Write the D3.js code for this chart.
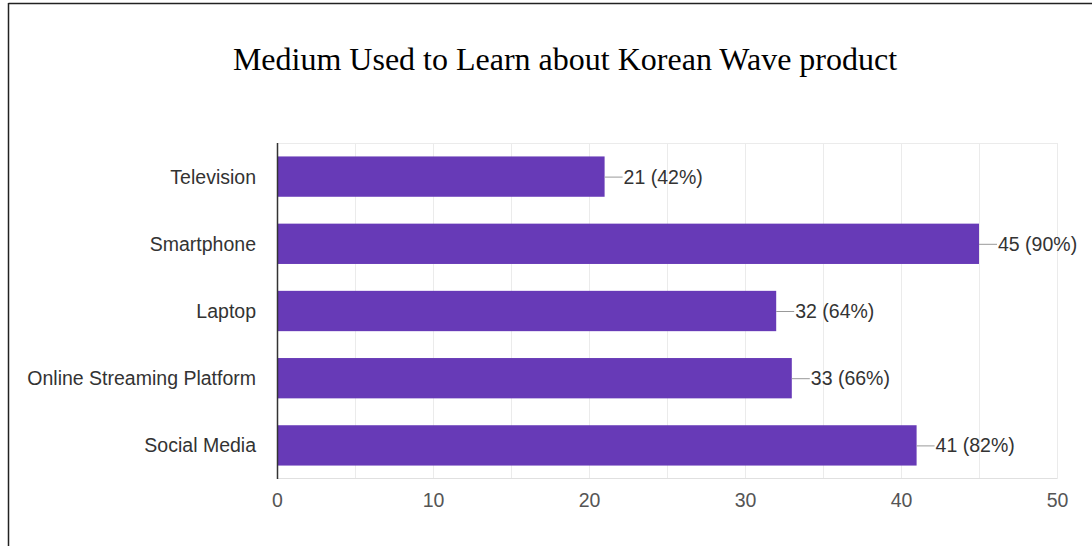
<!DOCTYPE html>
<html>
<head>
<meta charset="utf-8">
<script src="https://cdn.jsdelivr.net/npm/d3@7"></script>
<style>
  html, body { margin: 0; padding: 0; background: #fff; }
  svg { display: block; }
</style>
</head>
<body>
<svg id="chart" width="1092" height="546"></svg>
<script>
// Survey responses: number of respondents per medium (50 respondents total)
const categories = ["Television", "Smartphone", "Laptop", "Online Streaming Platform", "Social Media"];
const counts = [21, 45, 32, 33, 41];
const percents = [42, 90, 64, 66, 82];
const tickValues = [0, 10, 20, 30, 40, 50];
const gridValues = [0, 5, 10, 15, 20, 25, 30, 35, 40, 45, 50];
const titleText = "Medium Used to Learn about Korean Wave product";

const svg = d3.select("#chart");
const W = 1092, H = 546;
const margin = { top: 143, right: 35, bottom: 67, left: 277 };
const innerW = W - margin.left - margin.right;
const innerH = H - margin.top - margin.bottom;
const sans = "Arial, 'Liberation Sans', sans-serif";

// frame lines around the figure
svg.append("line").attr("x1", 8.5).attr("x2", W).attr("y1", 3.5).attr("y2", 3.5)
  .attr("stroke", "#222").attr("stroke-width", 1.5);
svg.append("line").attr("x1", 8.5).attr("x2", 8.5).attr("y1", 3).attr("y2", H)
  .attr("stroke", "#222").attr("stroke-width", 1.5);

svg.append("text")
  .attr("x", 565).attr("y", 70)
  .attr("text-anchor", "middle")
  .attr("font-family", "'Liberation Serif', 'Times New Roman', serif")
  .attr("font-size", 32)
  .attr("fill", "#000")
  .text(titleText);

const g = svg.append("g").attr("transform", `translate(${margin.left},${margin.top})`);

const x = d3.scaleLinear().domain([0, 50]).range([0, innerW]);
const y = d3.scaleBand().domain(categories).range([0, innerH]).paddingInner(0.4).paddingOuter(0.2);

// gridlines
g.append("g").selectAll("line").data(gridValues).join("line")
  .attr("x1", d => Math.round(x(d)) + 0.5).attr("x2", d => Math.round(x(d)) + 0.5)
  .attr("y1", 0).attr("y2", innerH)
  .attr("stroke", "#ebebeb").attr("stroke-width", 1);
g.append("line").attr("x1", 0).attr("x2", innerW).attr("y1", 0.5).attr("y2", 0.5)
  .attr("stroke", "#ebebeb");
g.append("line").attr("x1", 0).attr("x2", innerW).attr("y1", innerH - 0.5).attr("y2", innerH - 0.5)
  .attr("stroke", "#e0e0e0");

// bars
const data = categories.map((c, i) => ({ cat: c, v: counts[i], p: percents[i] }));
g.append("g").selectAll("rect").data(data).join("rect")
  .attr("x", 0)
  .attr("y", d => y(d.cat))
  .attr("width", d => x(d.v))
  .attr("height", y.bandwidth())
  .attr("fill", "#673ab7");

// value labels with leader lines
const lab = g.append("g").selectAll("g").data(data).join("g")
  .attr("transform", d => `translate(${x(d.v)},${y(d.cat) + y.bandwidth() / 2})`);
lab.append("line").attr("x1", 0).attr("x2", 18).attr("y1", 0.5).attr("y2", 0.5)
  .attr("stroke", "#999").attr("stroke-width", 1);
lab.append("text").attr("x", 19).attr("dy", "0.36em")
  .attr("font-family", sans)
  .attr("font-size", 19.5).attr("fill", "#333")
  .text(d => `${d.v} (${d.p}%)`);

// vertical baseline
g.append("line").attr("x1", 0.5).attr("x2", 0.5).attr("y1", 0).attr("y2", innerH)
  .attr("stroke", "#333").attr("stroke-width", 1.5);

// category axis
const yAxis = g.append("g").call(d3.axisLeft(y).tickSize(0).tickPadding(21));
yAxis.select(".domain").remove();
yAxis.selectAll("text")
  .attr("dy", "0.36em")
  .attr("font-family", sans)
  .attr("font-size", 19.5).attr("fill", "#333");

// value axis
const xAxis = g.append("g").attr("transform", `translate(0,${innerH})`)
  .call(d3.axisBottom(x).tickValues(tickValues).tickSize(0).tickPadding(14));
xAxis.select(".domain").remove();
xAxis.selectAll("text")
  .attr("font-family", sans)
  .attr("font-size", 19.5).attr("fill", "#555");
</script>
</body>
</html>
